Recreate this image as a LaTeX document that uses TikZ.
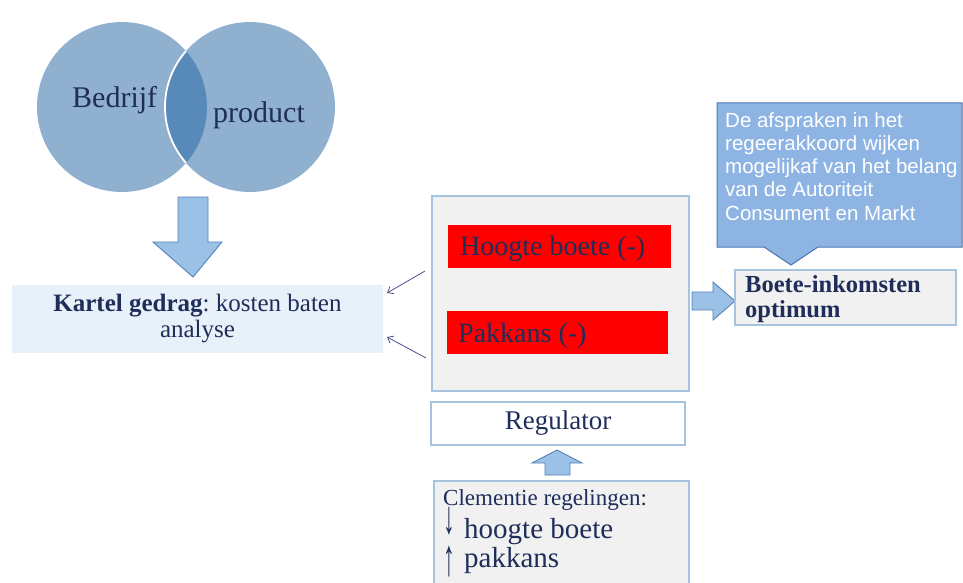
\documentclass[tikz,border=0pt]{standalone}
\usepackage{fontspec}
\setmainfont{Liberation Serif}
\newfontfamily\arialf{Liberation Sans}
\usetikzlibrary{calc,arrows.meta}
\definecolor{navy}{RGB}{31,45,90}
\definecolor{circfill}{RGB}{143,176,207}
\definecolor{lensfill}{RGB}{88,138,185}
\definecolor{kfill}{RGB}{232,241,249}
\definecolor{arrfill}{RGB}{155,194,230}
\definecolor{arrdraw}{RGB}{84,130,184}
\definecolor{boxfill}{RGB}{241,241,241}
\definecolor{boxdraw}{RGB}{166,196,224}
\definecolor{callfill}{RGB}{141,180,226}
\definecolor{calldraw}{RGB}{79,120,178}
\definecolor{thinarr}{RGB}{75,79,138}
\frenchspacing
\tikzset{
  txt/.style={text=navy, inner sep=0pt},
  panel/.style={fill=boxfill, draw=boxdraw, line width=1.6pt},
  redbar/.style={fill=red, draw=none, inner sep=0pt},
  blockarrow/.style={fill=arrfill, draw=arrdraw, line width=0.9pt, line join=miter},
  thin/.style={draw=thinarr, line width=0.8pt, -{Straight Barb[length=5pt,width=8pt]}}
}
\begin{document}
\begin{tikzpicture}[x=1pt,y=-1pt]
\useasboundingbox (0,0) rectangle (963,583);
% circles
\fill[circfill] (122,107) circle (85);
\fill[circfill] (250,107) circle (85);
\begin{scope}
  \clip (122,107) circle (85);
  \fill[lensfill] (250,107) circle (85);
  \draw[white, line width=1.8pt] (250,107) circle (85);
\end{scope}
\node[txt, anchor=base west, font=\fontsize{30}{34}\selectfont] (bedrijf) at (72,108) {Bedrijf};
\node[txt, anchor=base west, font=\fontsize{30}{34}\selectfont] (product) at (213,123) {product};
% down arrow
\draw[blockarrow] (178,197) -- (208,197) -- (208,242) -- (222,242) -- (193,277) -- (153,242)
  -- (178,242) -- cycle;
% kartel box
\node[fill=kfill, minimum width=371pt, minimum height=68pt, inner sep=0pt, align=center,
  text=navy, font=\fontsize{25}{26}\selectfont] (kartel) at (197.5,319)
  {\textbf{Kartel gedrag}: kosten baten\\analyse};
% central panel
\node[panel, minimum width=257pt, minimum height=195pt] (core) at (560.5,293.5) {};
\node[redbar, minimum width=223pt, minimum height=43pt] (red1) at (559.5,246.5) {};
\node[txt, anchor=base west, font=\fontsize{28}{30}\selectfont] (hb) at (460,255) {Hoogte boete (-)};
\node[redbar, minimum width=221pt, minimum height=43pt] (red2) at (557.5,332.5) {};
\node[txt, anchor=base west, font=\fontsize{28}{30}\selectfont] (pk) at (458,342) {Pakkans (-)};
% thin arrows
\coordinate (a1s) at (425,271);
\coordinate (a1e) at (387,293);
\coordinate (a2s) at (426,358);
\coordinate (a2e) at (387,337);
\draw[thin] (a1s) -- (a1e);
\draw[thin] (a2s) -- (a2e);
% regulator
\node[fill=white, draw=boxdraw, line width=1.2pt, minimum width=254pt, minimum height=43pt,
  text=navy, font=\fontsize{27}{30}\selectfont] (reg) at (558,423.5) {Regulator};
% right arrow
\draw[blockarrow] (692,292) -- (713,292) -- (713,282) -- (735,301) -- (713,320) -- (713,310)
  -- (692,310) -- cycle;
% boete box
\node[panel, minimum width=221pt, minimum height=55pt] (boete) at (845.5,297.5) {};
\node[txt, anchor=base west, font=\bfseries\fontsize{24.5}{26}\selectfont] (bt) at (745,292)
  {Boete-inkomsten};
\node[txt, anchor=base west, font=\bfseries\fontsize{24.5}{26}\selectfont] (bt2) at (745,317) {optimum};
% callout
\draw[fill=callfill, draw=calldraw, line width=1pt] (717,103) -- (962,103) -- (962,247)
  -- (818,247) -- (791,265) -- (764,247) -- (717,247) -- cycle;
\node[anchor=north west, inner sep=0pt, text=white, align=left,
  font=\arialf\fontsize{20.5}{23.3}\selectfont] (callout) at (725,112)
  {De afspraken in het\\regeerakkoord wijken\\mogelijkaf van het belang\\van de Autoriteit\\Consument en Markt};
% up arrow
\draw[blockarrow] (545,475) -- (545,463) -- (532,463) -- (557,450) -- (582,463) -- (570,463)
  -- (570,475) -- cycle;
% clementie box
\node[panel, minimum width=255pt, minimum height=110pt, anchor=north west] (clem) at (433,480) {};
\node[txt, anchor=base west, font=\fontsize{23}{26}\selectfont] (c1) at (443,505) {Clementie regelingen:};
\node[txt, font=\fontsize{26}{28}\selectfont] (ar1) at (449,521.5) {\scalebox{0.9}[1.8]{↓}};
\node[txt, anchor=base west, font=\fontsize{29}{32}\selectfont] (c2) at (464,538) {hoogte boete};
\node[txt, font=\fontsize{26}{28}\selectfont] (ar2) at (449,562) {\scalebox{0.9}[2.0]{↑}};
\node[txt, anchor=base west, font=\fontsize{29}{32}\selectfont] (c3) at (464,567) {pakkans};
\end{tikzpicture}
\end{document}
